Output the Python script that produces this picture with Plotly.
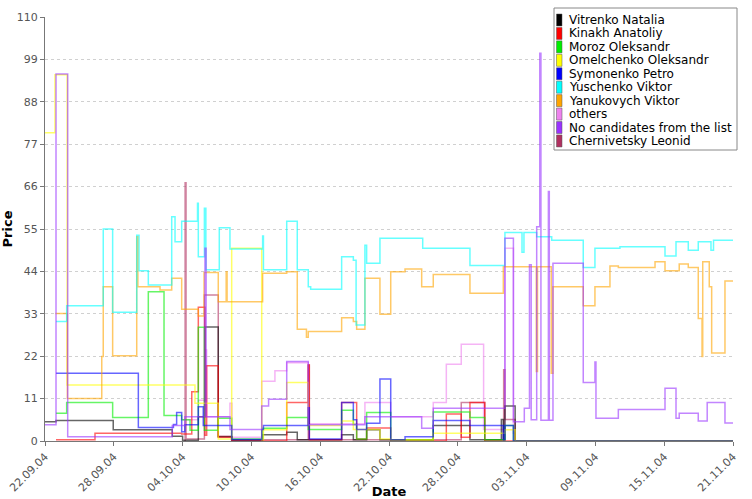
import pandas as pd
import plotly.graph_objects as go

# ---------------- data (t = days since 22.09.2004, v = price) ----------------
START = "2004-09-22"

names = ["Vitrenko Natalia", "Kinakh Anatoliy", "Moroz Oleksandr", "Omelchenko Oleksandr",
         "Symonenko Petro", "Yuschenko Viktor", "Yanukovych Viktor", "others",
         "No candidates from the list", "Chernivetsky Leonid"]
colors = ["#000000", "#ff0000", "#00ee00", "#ffff00", "#0000ff", "#00ffff",
          "#ffa500", "#ee82ee", "#9933ff", "#b03060"]

vit_t = [0, 0.96, 5.95, 11.1, 12.0, 13.37, 13.95, 15.11, 16.3, 18.98, 21.08, 22.0, 25.87, 26.89,
         28.05, 29.21, 33.86, 37.06, 39.8, 39.97, 40.11, 41.0, 60]
vit_v = [5, 5.3, 2.9, 1.2, 0.2, 6.3, 29.6, 1.1, 0.2, 1.6, 2.3, 0.3, 1.6, 0.3,
         2.9, 0.3, 4, 0.3, 5.6, 0.3, 9.1, 0, 0]

kin_t = [0.96, 4.36, 11.92, 12.8, 13.37, 13.95, 14.1, 15.11, 16.28, 21.08, 22.96, 23.05, 25.87,
         27.18, 28.05, 30.15, 35.0, 36.3, 37.06, 38.35, 60]
kin_v = [0.3, 2, 1.8, 12.8, 34.7, 1.5, 19.5, 1, 0, 10, 19.7, 0.3, 10,
         0.5, 3.4, 0, 7, 1, 10, 0, 0]

mor_t = [0.96, 1.89, 5.9, 9.01, 10.38, 11.92, 12.65, 13.37, 13.9, 15.11, 16.28, 18.98, 21.08,
         22.96, 25.87, 26.89, 27.18, 28.05, 30.15, 33.86, 37.06, 38.35, 40.11, 40.85, 60]
mor_v = [7.2, 10, 6.1, 38.7, 6.6, 5.5, 2.8, 29.5, 2.8, 5.9, 0.5, 3.3, 6.1,
         3, 8, 4.3, 0.5, 7.4, 0.3, 7.5, 6.1, 0.3, 4, 0, 0]

ome_t = [0, 0.87, 1.93, 13.08, 15.11, 16.28, 18.9, 19.05, 21.08, 22.96, 25.87, 26.89, 29.21,
         30.15, 33.86, 40.11, 41.0, 60]
ome_v = [80, 95, 14.5, 9.8, 0.5, 50, 0.3, 2.9, 15.2, 4, 5.2, 3, 0.5,
         0.3, 2, 2.9, 0, 0]

sym_t = [0.96, 8.14, 11.2, 11.48, 11.92, 12.2, 13.37, 13.8, 16.28, 18.9, 19.05, 22.96, 23.05,
         25.87, 26.89, 27.18, 28.05, 29.21, 30.15, 31.4, 33.86, 37.06, 39.97, 40.11, 40.85, 60]
sym_v = [17.6, 3.5, 4.3, 7.4, 2.4, 4.2, 8.9, 4.0, 0.4, 3, 4, 8.6, 0.5,
         10, 5.5, 3, 4.6, 16.1, 0.3, 1.1, 5.3, 4, 0.3, 4, 0, 0]

yus_t = [0.96, 1.89, 5.08, 5.9, 8.0, 8.2, 9.01, 11.05, 11.34, 11.92, 13.3, 13.37, 13.9, 14.03,
         15.2, 16.13, 18.98, 19.05, 21.08, 22.0, 22.96, 23.17, 25.87, 26.89, 27.13, 27.9, 28.05,
         29.21, 32.94, 37.06, 40.11, 41.6, 41.77, 42.88, 44.19, 46.94, 47.96, 50.14, 54.07,
         55.03, 56.1, 56.97, 58.08, 58.3, 60]
yus_v = [31, 35.1, 55, 33.4, 53.4, 44.2, 40.5, 58.2, 51.7, 57, 61.7, 47.8, 60.4, 44.4,
         55.3, 49.8, 53.2, 44.4, 57, 44.4, 40, 39.4, 47.8, 46.9, 30.1, 50.8, 46.1,
         52.6, 50, 45.5, 54.1, 49, 54.1, 53, 52.1, 45, 50, 50.4, 48,
         51.7, 49.5, 51.7, 49.5, 52.1, 52.1]

yan_t = [0.9, 1.95, 4.95, 5.08, 5.9, 8.0, 8.1, 10.03, 11.05, 11.92, 13.37, 13.87, 15.11,
         15.8, 15.88, 18.98, 21.08, 22.0, 22.8, 22.96, 25.87, 26.89, 27.18, 27.9, 29.21, 30.15,
         31.4, 32.85, 33.86, 37.06, 39.97, 42.85, 42.95, 44.15, 44.3, 46.94, 47.96, 49.27, 50.0,
         53.2, 54.07, 55.31, 56.1, 56.97, 57.3, 57.36, 57.93, 58.14, 59.3, 60]
yan_v = [33.1, 11.0, 21.9, 40, 22.1, 53, 40, 39.2, 42.2, 34.2, 32.4, 43.7, 36.1,
         43.9, 36.1, 43.5, 43.9, 29, 26.9, 28.4, 32, 31, 29, 42.2, 32.9, 43.9,
         44.6, 40, 43.2, 38.3, 45.2, 18, 45.2, 17.6, 40, 35.1, 40, 45.4, 45,
         46.5, 44.2, 45.9, 45, 31.8, 21.9, 46.5, 40, 22.8, 41.5, 41.5]

oth_t = [12.0, 13.37, 13.95, 14.1, 16.13, 16.3, 18.9, 20.05, 21.08, 22.96, 27.9, 30.15, 33.86,
         35.0, 36.3, 38.25, 40.11, 40.85, 41.0, 60]
oth_v = [5.5, 10.6, 23.6, 6.3, 9.8, 1, 15.5, 18.2, 20.3, 4.5, 10, 6.3, 10,
         19.9, 25.1, 3, 50, 2, 0, 0]

noc_t = [0, 0.96, 1.98, 11.1, 12.2, 13.95, 14.05, 16.13, 18.9, 19.5, 21.08, 22.96, 27.9, 32.85,
         33.86, 40.11, 40.85, 41.8, 42.25, 42.4, 42.88, 43.15, 43.25, 43.9, 43.98, 44.3, 46.94,
         47.96, 48.05, 50.0, 54.07, 55.03, 55.31, 56.97, 57.75, 59.3, 60]
noc_v = [4.2, 95.2, 1.1, 4, 6.3, 50, 6.3, 3, 9.1, 10.8, 20.6, 4.2, 6.3, 3.3,
         8.5, 52.6, 5, 8.5, 45.7, 5.5, 55.6, 100.6, 5.4, 64.7, 5.4, 46.1, 15.2,
         20.5, 5.9, 8.2, 13.7, 5.9, 7.2, 5.2, 10, 4.7, 4.7]

che_t = [12.15, 12.22, 12.3, 13.9, 15.11, 16.28, 22.96, 23.05, 36.0, 36.3, 38.35, 40.0, 40.11,
         41.0, 60]
che_v = [0, 67, 0.5, 37.9, 1.2, 0.3, 19.7, 0.3, 0.3, 10, 0.3, 18.5, 5.6, 0, 0]

series_t = [vit_t, kin_t, mor_t, ome_t, sym_t, yus_t, yan_t, oth_t, noc_t, che_t]
series_v = [vit_v, kin_v, mor_v, ome_v, sym_v, yus_v, yan_v, oth_v, noc_v, che_v]

tick_days = [0, 6, 12, 18, 24, 30, 36, 42, 48, 54, 60]
y_ticks = [0, 11, 22, 33, 44, 55, 66, 77, 88, 99, 110]

# ---------------- figure ----------------
start = pd.Timestamp(START)
def to_dates(days):
    return [start + pd.Timedelta(days=d) for d in days]

def rgba(hex_c, a):
    h = hex_c.lstrip("#")
    r, g, b = int(h[0:2], 16), int(h[2:4], 16), int(h[4:6], 16)
    return f"rgba({r},{g},{b},{a})"

fig = go.Figure()
draw_order = [7, 9, 0, 1, 2, 3, 4, 6, 5, 8]
for i in draw_order:
    fig.add_trace(go.Scatter(
        x=to_dates(series_t[i]), y=series_v[i], mode="lines", name=names[i],
        line=dict(color=rgba(colors[i], 0.6), width=1.5, shape="hv"),
        showlegend=False, hoverinfo="x+y+name"))

tick_dates = to_dates(tick_days)
FONT = "DejaVu Sans"

fig.update_layout(
    width=752, height=499,
    margin=dict(l=45, r=19, t=17, b=58),
    paper_bgcolor="white", plot_bgcolor="white",
    font=dict(family=FONT, size=11, color="#444"),
    showlegend=False,
    xaxis=dict(
        type="date", range=[tick_dates[0], tick_dates[-1]],
        tickvals=tick_dates, ticktext=[d.strftime("%d.%m.%y") for d in tick_dates],
        tickangle=-45, showgrid=False, zeroline=False,
        showline=True, linecolor="#777", linewidth=1,
        ticks="outside", ticklen=4, tickcolor="#777",
        tickfont=dict(family=FONT, size=11, color="#555"),
        title=dict(text="<b>Date</b>", font=dict(family=FONT, size=13, color="#000"), standoff=0),
        automargin=False),
    yaxis=dict(
        range=[0, 110], tickvals=y_ticks, showgrid=True, gridcolor="#d0d0d0",
        griddash="dot", gridwidth=1, zeroline=False,
        showline=True, linecolor="#777", linewidth=1,
        ticks="outside", ticklen=4, tickcolor="#777",
        tickfont=dict(family=FONT, size=11, color="#555"),
        title=dict(text="<b>Price</b>", font=dict(family=FONT, size=13, color="#000"), standoff=6),
        automargin=False),
)

# ---------------- custom compact legend ----------------
PL, PR, PT, PB = 45, 733, 17, 441
def px(x):
    return (x - PL) / (PR - PL)
def py(y):
    return (PB - y) / (PB - PT)

shapes = [dict(type="rect", xref="paper", yref="paper",
               x0=px(554), x1=px(737), y0=py(150), y1=py(8),
               fillcolor="white", line=dict(color="#888", width=1), layer="above")]
annotations = []
for i, (n, c) in enumerate(zip(names, colors)):
    cy = 20 + i * 13.44
    shapes.append(dict(type="rect", xref="paper", yref="paper",
                       x0=px(556.5), x1=px(562), y0=py(cy + 6), y1=py(cy - 6),
                       fillcolor=c, line=dict(color="#555", width=0.5), layer="above"))
    annotations.append(dict(xref="paper", yref="paper", x=px(567), y=py(cy),
                            text=n, showarrow=False, xanchor="left", yanchor="middle",
                            font=dict(family=FONT, size=12, color="#000")))
fig.update_layout(shapes=shapes, annotations=annotations)

fig.write_html("out.html", config={"displayModeBar": False},
               post_script="document.body.style.margin='0px';document.body.style.overflow='hidden';")
